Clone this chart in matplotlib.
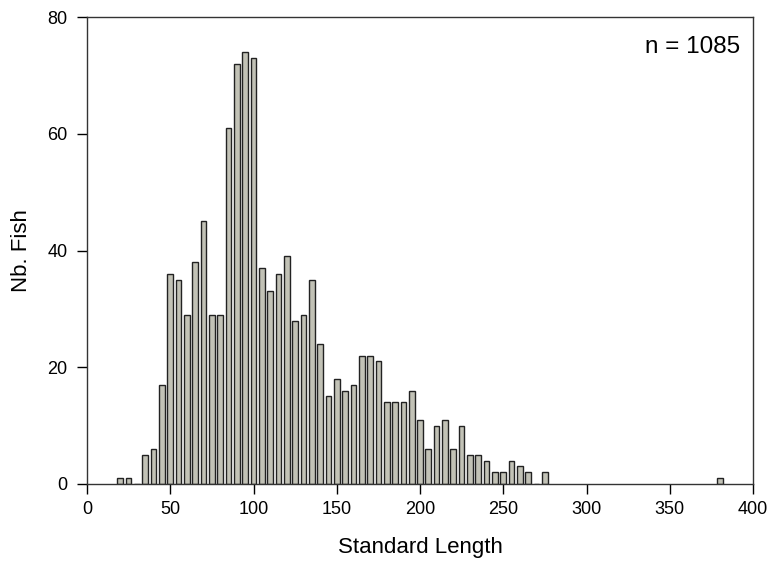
import numpy as np
import matplotlib.pyplot as plt

plt.rcParams['font.family'] = ['Liberation Sans', 'DejaVu Sans']

# Centres des classes (pas de 5) et effectifs
lengths = [20, 25, 30, 35, 40, 45, 50, 55, 60, 65, 70, 75, 80, 85, 90, 95, 100,
           105, 110, 115, 120, 125, 130, 135, 140, 145, 150, 155, 160, 165, 170,
           175, 180, 185, 190, 195, 200, 205, 210, 215, 220, 225, 230, 235, 240,
           245, 250, 255, 260, 265, 270, 275, 380]
counts = [1, 1, 0, 5, 6, 17, 36, 35, 29, 38, 45, 29, 29, 61, 72, 74, 73,
          37, 33, 36, 39, 28, 29, 35, 24, 15, 18, 16, 17, 22, 22,
          21, 14, 14, 14, 16, 11, 6, 10, 11, 6, 10, 5, 5, 4,
          2, 2, 4, 3, 2, 0, 2, 1]

fig = plt.figure(figsize=(7.73, 5.64), dpi=100)
ax = fig.add_axes([87/773, 1 - 484/564, 666/773, 467/564])

ax.bar(lengths, counts, width=3.4, color='#c2c2b6', edgecolor='#222222', linewidth=1.0)

ax.set_xlim(0, 400)
ax.set_ylim(0, 80)
ax.set_xticks(range(0, 401, 50))
ax.set_yticks(range(0, 81, 20))
ax.tick_params(labelsize=13, length=7, width=1, direction='out')
ax.tick_params(axis='x', pad=5)
ax.tick_params(axis='y', pad=7)
for s in ax.spines.values():
    s.set_linewidth(1.0)
    s.set_color('#333333')

ax.set_xlabel('Standard Length', fontsize=16, labelpad=14)
ax.set_ylabel('Nb. Fish', fontsize=16, labelpad=11)
ax.text(0.980, 0.936, 'n = 1085', transform=ax.transAxes, ha='right', va='center', fontsize=17.5)

fig.savefig('out.png', dpi=100)
